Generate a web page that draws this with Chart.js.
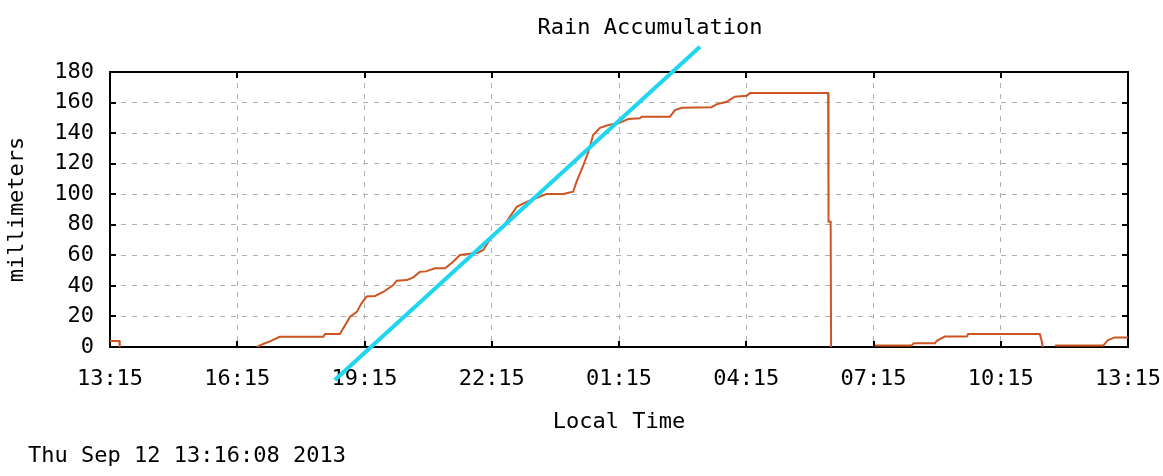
<!DOCTYPE html>
<html><head><meta charset="utf-8">
<script src="https://cdn.jsdelivr.net/npm/chart.js@4"></script>
<style>html,body{margin:0;padding:0;background:#fff;overflow:hidden}#wrap{width:1163px;height:476px}</style>
</head><body><div id="wrap"><canvas id="c" width="1163" height="476"></canvas></div>
<script>
const chartTitle = 'Rain Accumulation';
const yAxisTitle = 'millimeters';
const xAxisTitle = 'Local Time';
const timestampText = 'Thu Sep 12 13:16:08 2013';
const xTickLabels = ['13:15','16:15','19:15','22:15','01:15','04:15','07:15','10:15','13:15'];

// hours since 13:15 and accumulated rain (mm); null = no data
const rainHours = [0.00,0.22,0.23,1.50,3.46,3.61,3.77,4.00,5.03,5.07,5.42,5.66,5.82,5.93,6.05,6.25,6.44,6.68,6.76,7.00,7.15,7.31,7.45,7.66,7.90,8.09,8.25,8.68,8.80,9.00,9.27,9.43,9.59,9.82,10.14,10.29,10.69,10.92,11.00,11.16,11.28,11.39,11.55,11.75,11.98,12.22,12.49,12.53,13.20,13.32,13.48,14.18,14.30,14.54,14.73,15.01,15.09,16.93,16.94,16.99,17.00,17.50,18.03,18.90,18.95,19.45,19.49,19.68,20.20,20.23,21.92,21.96,21.99,22.10,22.28,23.42,23.53,23.69,24.00];
const rainMm =    [4,   4,   0,   null,0,   2,   3.7, 6.7, 6.7, 8.5, 8.5, 19.8,23,  28.6,33,  33.4,36,  40.6,43.4,43.8,45.6,49.3,49.5,51.5,51.5,55.8,60.2,61.7,63.5,72.2,78.7,85.3,91.8,95,  98.4, 100.1,100.1,101.6,108.2,119,  127.8,138.7,143.5,145.3,146.4,149.2,149.7,150.7,150.7,155.1,156.6,157,  158.8,160.5,163.8,164.5,166.2,166.2,82,   82,   0,    null, 1,    1,    2.4,  2.4,  4.1,  6.8,  6.8,  8.5,  8.5,  4.6,  0,    null, 1,    1,    4.6,  6.3,  6.3];

// overlaid trend line (cyan)
const trendHours = [5.30, 13.91];
const trendMm = [-21.6, 196.5];

const FONT = "'DejaVu Sans Mono', monospace";

const rainPoints = rainHours.map((h, i) => ({x: h, y: rainMm[i]}));
const trendPoints = trendHours.map((h, i) => ({x: h, y: trendMm[i]}));

const framePlugin = {
  id: 'frame',
  afterLayout(chart) {
    const t = chart.titleBlock;
    if (t) { t.left = 2 * 650 - t.right; }
  },
  beforeDatasetsDraw(chart) {
    const {ctx, chartArea: a, scales: {x, y}} = chart;
    ctx.save();
    ctx.strokeStyle = '#000';
    ctx.lineWidth = 2;
    ctx.strokeRect(a.left, a.top, a.right - a.left, a.bottom - a.top);
    ctx.lineWidth = 2;
    ctx.beginPath();
    x.ticks.forEach(t => {
      const px = Math.round(x.getPixelForValue(t.value));
      ctx.moveTo(px, a.bottom); ctx.lineTo(px, a.bottom - 6);
      ctx.moveTo(px, a.top); ctx.lineTo(px, a.top + 6);
    });
    y.ticks.forEach(t => {
      const py = Math.round(y.getPixelForValue(t.value));
      ctx.moveTo(a.left, py); ctx.lineTo(a.left + 6, py);
      ctx.moveTo(a.right, py); ctx.lineTo(a.right - 6, py);
    });
    ctx.stroke();
    ctx.restore();
  },
  afterDraw(chart) {
    const {ctx} = chart;
    ctx.save();
    ctx.fillStyle = '#000';
    ctx.font = '22px ' + FONT;
    ctx.textBaseline = 'middle';
    ctx.textAlign = 'left';
    ctx.fillText(timestampText, 28, 456);
    ctx.restore();
  }
};

new Chart(document.getElementById('c'), {
  type: 'line',
  data: {
    datasets: [
      {data: trendPoints, borderColor: '#1fd5ef', borderWidth: 4, pointRadius: 0, tension: 0, clip: false, fill: false},
      {data: rainPoints, borderColor: '#cc5522', borderWidth: 2, pointRadius: 0, tension: 0, spanGaps: false, fill: false}
    ]
  },
  options: {
    responsive: false,
    animation: false,
    layout: {padding: {left: 0, right: 35, top: 0, bottom: 0}},
    plugins: {
      legend: {display: false},
      tooltip: {enabled: false},
      title: {display: true, text: chartTitle, color: '#000', font: {family: FONT, size: 22, weight: 'normal'}, padding: {top: 15, bottom: 30.6}}
    },
    scales: {
      x: {
        type: 'linear', min: 0, max: 24,
        afterFit(s) { s.height = 129; s.paddingLeft = 0; s.paddingRight = 0; },
        grid: {color: '#b0b0b0', lineWidth: 1, drawTicks: false},
        border: {display: false, dash: [5, 6]},
        ticks: {stepSize: 3, autoSkip: false, maxRotation: 0, padding: 19, color: '#000', font: {family: FONT, size: 22},
          callback: (v, i) => xTickLabels[i]},
        title: {display: true, text: xAxisTitle, color: '#000', font: {family: FONT, size: 22}, padding: {top: 0, bottom: 41}}
      },
      y: {
        min: 0, max: 180,
        afterFit(s) { s.width = 110; s.paddingTop = 0; s.paddingBottom = 0; },
        grid: {color: '#b0b0b0', lineWidth: 1, drawTicks: false},
        border: {display: false, dash: [5, 6]},
        ticks: {stepSize: 20, padding: 16, color: '#000', font: {family: FONT, size: 22}},
        title: {display: true, text: yAxisTitle, color: '#000', font: {family: FONT, size: 22}, padding: {top: 4, bottom: 0}}
      }
    }
  },
  plugins: [framePlugin]
});
</script></body></html>
